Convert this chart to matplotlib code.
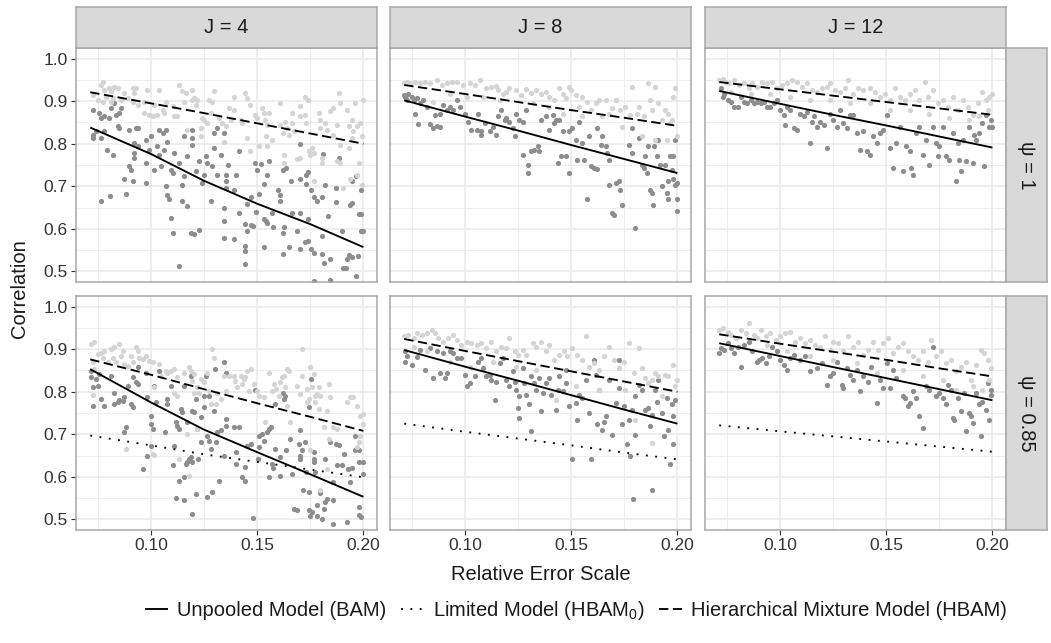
import matplotlib
matplotlib.use("Agg")
import matplotlib.pyplot as plt
from matplotlib.lines import Line2D

plt.rcParams['font.family'] = ['Liberation Sans', 'DejaVu Sans']
plt.rcParams['mathtext.fontset'] = 'custom'
plt.rcParams['mathtext.rm'] = 'Liberation Sans'
plt.rcParams['mathtext.it'] = 'Liberation Sans:italic'

# ---------------- facets / axes ----------------
j_labels = ["J = 4", "J = 8", "J = 12"]
psi_labels = ["\u03c8 = 1", "\u03c8 = 0.85"]
x_ticks = [0.10, 0.15, 0.20]
x_tick_labels = ["0.10", "0.15", "0.20"]
y_ticks = [0.5, 0.6, 0.7, 0.8, 0.9, 1.0]
y_tick_labels = ["0.5", "0.6", "0.7", "0.8", "0.9", "1.0"]
legend_labels = ["Unpooled Model (BAM)", "Limited Model (HBAM$_0$)",
                 "Hierarchical Mixture Model (HBAM)"]

# ---------------- fitted curves ----------------
fit_x = [0.0715, 0.10, 0.125, 0.15, 0.175, 0.20]
j4_psi1_bam_fit = [0.838, 0.776, 0.713, 0.659, 0.611, 0.557]
j4_psi1_hbam_fit = [0.921, 0.895, 0.872, 0.848, 0.824, 0.800]
j8_psi1_bam_fit = [0.902, 0.864, 0.831, 0.797, 0.764, 0.731]
j8_psi1_hbam_fit = [0.938, 0.917, 0.898, 0.879, 0.861, 0.842]
j12_psi1_bam_fit = [0.924, 0.894, 0.868, 0.843, 0.817, 0.791]
j12_psi1_hbam_fit = [0.945, 0.928, 0.913, 0.898, 0.883, 0.868]
j4_psi085_bam_fit = [0.853, 0.775, 0.711, 0.658, 0.606, 0.553]
j4_psi085_hbam_fit = [0.876, 0.840, 0.806, 0.773, 0.741, 0.708]
j4_psi085_hbam0_fit = [0.697, 0.674, 0.653, 0.635, 0.617, 0.599]
j8_psi085_bam_fit = [0.898, 0.859, 0.826, 0.792, 0.758, 0.725]
j8_psi085_hbam_fit = [0.924, 0.896, 0.872, 0.848, 0.824, 0.800]
j8_psi085_hbam0_fit = [0.725, 0.706, 0.690, 0.674, 0.657, 0.641]
j12_psi085_bam_fit = [0.914, 0.884, 0.858, 0.832, 0.806, 0.780]
j12_psi085_hbam_fit = [0.935, 0.913, 0.894, 0.875, 0.855, 0.836]
j12_psi085_hbam0_fit = [0.721, 0.707, 0.695, 0.683, 0.671, 0.659]

# ---------------- simulation points (x = error scale, y = correlation) ----------------
j4_psi1_bam = [
(0.0727,0.880),(0.0727,0.821),(0.0727,0.813),(0.0742,0.829),(0.0766,0.813),(0.0758,0.872),(0.0766,0.860),
(0.0781,0.864),(0.0805,0.860),(0.0813,0.884),(0.0828,0.895),(0.0836,0.868),(0.0852,0.872),(0.0859,0.884),
(0.0844,0.841),(0.0852,0.837),(0.0781,0.829),(0.0794,0.786),(0.0820,0.774),(0.0766,0.666),(0.0808,0.677),
(0.0875,0.716),(0.0883,0.682),(0.0914,0.712),(0.0898,0.747),(0.0906,0.739),(0.0898,0.833),(0.0930,0.837),
(0.0938,0.837),(0.0922,0.802),(0.0938,0.794),(0.0922,0.778),(0.0922,0.766),(0.0977,0.809),(0.0977,0.708),
(0.0977,0.755),(0.0992,0.786),(0.1000,0.817),(0.1016,0.739),(0.1039,0.833),(0.1039,0.774),(0.1031,0.794),
(0.1047,0.747),(0.1055,0.825),(0.1070,0.833),(0.1078,0.805),(0.1063,0.786),(0.1109,0.778),(0.1094,0.739),
(0.1078,0.680),(0.1102,0.731),(0.1070,0.700),(0.1086,0.669),(0.1094,0.626),(0.1106,0.591),(0.1133,0.755),
(0.1133,0.513),(0.1148,0.704),(0.1148,0.665),(0.1156,0.817),(0.1156,0.723),(0.1172,0.770),(0.1172,0.653),
(0.1195,0.833),(0.1195,0.813),(0.1195,0.798),(0.1188,0.591),(0.1203,0.587),(0.1211,0.735),(0.1227,0.759),
(0.1227,0.598),(0.1242,0.708),(0.1258,0.770),(0.1266,0.755),(0.1289,0.747),(0.1250,0.727),(0.1281,0.665),
(0.1297,0.790),(0.1297,0.825),(0.1313,0.837),(0.1313,0.727),(0.1328,0.774),(0.1344,0.649),(0.1344,0.618),
(0.1344,0.579),(0.1352,0.727),(0.1352,0.712),(0.1344,0.825),(0.1352,0.696),
(0.1363,0.751),(0.1391,0.692),(0.1402,0.726),(0.1414,0.782),(0.1414,0.637),(0.1391,0.577),(0.1441,0.612),
(0.1453,0.595),(0.1442,0.559),(0.1442,0.548),(0.1442,0.518),(0.1469,0.610),(0.1480,0.606),(0.1453,0.659),
(0.1469,0.675),(0.1492,0.755),(0.1500,0.739),(0.1520,0.753),(0.1508,0.682),(0.1495,0.640),(0.1531,0.624),
(0.1542,0.618),(0.1547,0.613),(0.1531,0.705),(0.1547,0.727),(0.1558,0.759),(0.1570,0.637),(0.1573,0.605),
(0.1531,0.557),(0.1598,0.692),(0.1609,0.680),(0.1609,0.665),(0.1622,0.739),(0.1636,0.743),(0.1625,0.604),
(0.1623,0.591),(0.1623,0.540),(0.1648,0.557),(0.1661,0.713),(0.1664,0.637),(0.1688,0.596),(0.1702,0.637),
(0.1700,0.718),(0.1703,0.800),(0.1703,0.553),(0.1730,0.727),(0.1728,0.705),(0.1741,0.733),(0.1741,0.622),
(0.1727,0.570),(0.1741,0.571),(0.1753,0.552),(0.1766,0.544),(0.1753,0.691),(0.1766,0.675),(0.1780,0.665),
(0.1805,0.675),(0.1808,0.777),(0.1805,0.583),(0.1806,0.541),(0.1813,0.520),(0.1819,0.704),(0.1833,0.629),
(0.1844,0.530),(0.1870,0.695),(0.1870,0.663),(0.1883,0.766),(0.1898,0.596),(0.1923,0.530),(0.1906,0.509),
(0.1919,0.507),(0.1933,0.538),(0.1948,0.534),(0.1975,0.536),(0.1938,0.657),(0.1948,0.661),(0.1948,0.713),
(0.1963,0.725),(0.1977,0.636),(0.1989,0.636),(0.1989,0.692),(0.1989,0.596),(0.2000,0.596),(0.1963,0.488),
(0.1769,0.477),(0.1844,0.480)]

j4_psi1_hbam = [
(0.0727,0.915),(0.0766,0.938),(0.0773,0.946),(0.0781,0.927),(0.0805,0.930),(0.0813,0.923),(0.0828,0.934),
(0.0844,0.932),(0.0820,0.907),(0.0813,0.899),(0.0859,0.903),(0.0875,0.919),(0.0891,0.907),(0.0914,0.930),
(0.0930,0.930),(0.0922,0.919),(0.0914,0.899),(0.0938,0.891),(0.0969,0.899),(0.0984,0.927),(0.0992,0.868),
(0.1008,0.864),(0.1031,0.868),(0.1039,0.927),(0.1055,0.880),(0.1063,0.872),(0.1070,0.899),(0.1102,0.888),
(0.1109,0.864),(0.1133,0.938),(0.1148,0.923),(0.1156,0.899),(0.1164,0.919),(0.1195,0.927),(0.1195,0.903),
(0.1203,0.907),(0.1219,0.903),(0.1211,0.891),(0.1172,0.833),(0.1234,0.837),(0.1242,0.860),(0.1250,0.856),
(0.1266,0.848),(0.1273,0.903),(0.1289,0.899),(0.1297,0.923),(0.1281,0.872),(0.1320,0.860),(0.1336,0.848),
(0.1352,0.841),(0.1344,0.805),(0.1234,0.817),(0.0750,0.903),(0.0773,0.899),(0.0789,0.911),(0.1016,0.891),
(0.1125,0.864),(0.0969,0.872),
(0.1391,0.911),(0.1367,0.884),(0.1391,0.880),(0.1375,0.856),(0.1445,0.919),(0.1453,0.907),(0.1422,0.856),
(0.1430,0.848),(0.1466,0.891),(0.1453,0.813),(0.1466,0.784),(0.1492,0.868),(0.1500,0.860),(0.1523,0.884),
(0.1531,0.872),(0.1555,0.872),(0.1539,0.856),(0.1547,0.845),(0.1544,0.817),(0.1547,0.794),(0.1508,0.794),
(0.1570,0.809),(0.1609,0.895),(0.1609,0.845),(0.1622,0.825),(0.1625,0.774),(0.1625,0.755),(0.1633,0.852),
(0.1641,0.837),(0.1648,0.821),(0.1664,0.872),(0.1664,0.848),(0.1672,0.829),(0.1688,0.763),(0.1703,0.888),
(0.1703,0.864),(0.1703,0.766),(0.1727,0.911),(0.1738,0.903),(0.1727,0.868),(0.1731,0.848),(0.1742,0.782),
(0.1750,0.774),(0.1758,0.790),(0.1766,0.778),(0.1766,0.712),(0.1789,0.872),(0.1797,0.856),(0.1797,0.837),
(0.1805,0.766),(0.1805,0.755),(0.1820,0.848),(0.1828,0.833),(0.1844,0.876),(0.1859,0.884),(0.1859,0.821),
(0.1875,0.845),(0.1883,0.919),(0.1891,0.895),(0.1875,0.759),(0.1888,0.755),(0.1891,0.798),(0.1922,0.880),
(0.1930,0.841),(0.1930,0.790),(0.1945,0.813),(0.1953,0.829),(0.1948,0.856),(0.1961,0.895),(0.1969,0.841),
(0.1977,0.755),(0.1984,0.848),(0.1992,0.817),(0.2000,0.903),(0.1992,0.704),(0.1969,0.727),(0.1906,0.696),
(0.1938,0.716)]

j8_psi1_bam = [
(0.0712,0.914),(0.0720,0.910),(0.0735,0.916),(0.0751,0.909),(0.0727,0.903),(0.0759,0.903),(0.0774,0.907),
(0.0766,0.871),(0.0782,0.847),(0.0790,0.895),(0.0805,0.903),(0.0821,0.887),(0.0836,0.847),(0.0852,0.836),
(0.0868,0.842),(0.0883,0.840),(0.0860,0.868),(0.0883,0.871),(0.0899,0.891),(0.0914,0.879),(0.0930,0.887),
(0.0945,0.879),(0.0961,0.903),(0.0977,0.887),(0.1000,0.871),(0.1016,0.852),(0.1031,0.833),(0.1055,0.833),
(0.1062,0.871),(0.1078,0.829),(0.1078,0.821),(0.1093,0.848),(0.1117,0.829),(0.1132,0.840),(0.1148,0.821),
(0.1156,0.864),(0.1171,0.879),(0.1187,0.856),(0.1195,0.860),(0.1210,0.852),(0.1226,0.836),(0.1234,0.817),
(0.1241,0.871),(0.1257,0.856),(0.1273,0.852),(0.1273,0.774),(0.1288,0.879),(0.1296,0.751),(0.1296,0.731),
(0.1312,0.782),(0.1327,0.786),(0.1343,0.794),(0.1350,0.782),(0.1358,0.856),(0.1382,0.864),(0.1397,0.833),
(0.1413,0.868),(0.1421,0.848),(0.1428,0.856),(0.1444,0.856),(0.1436,0.755),(0.1452,0.770),(0.1460,0.829),
(0.1475,0.770),(0.1491,0.731),(0.1491,0.829),(0.1506,0.836),(0.1522,0.809),(0.1530,0.762),(0.1537,0.852),
(0.1553,0.801),(0.1561,0.762),(0.1576,0.669),(0.1584,0.817),(0.1592,0.747),(0.1607,0.743),(0.1623,0.741),
(0.1623,0.836),(0.1639,0.798),(0.1646,0.817),(0.1662,0.794),(0.1670,0.778),(0.1678,0.762),(0.1678,0.704),
(0.1693,0.638),(0.1701,0.632),(0.1709,0.708),(0.1724,0.712),(0.1732,0.692),(0.1740,0.657),(0.1771,0.798),
(0.1787,0.778),(0.1802,0.603),(0.1787,0.836),(0.1818,0.813),(0.1833,0.751),(0.1841,0.743),(0.1849,0.770),
(0.1857,0.731),(0.1864,0.794),(0.1872,0.692),(0.1880,0.685),(0.1883,0.657),(0.1888,0.794),(0.1903,0.770),
(0.1911,0.809),(0.1919,0.751),(0.1927,0.700),(0.1942,0.751),(0.1950,0.685),(0.1958,0.669),(0.1966,0.770),
(0.1974,0.739),(0.1981,0.716),(0.1989,0.704),(0.1997,0.708),(0.1997,0.669),(0.1997,0.642),(0.1981,0.770),
(0.1989,0.809),(0.1958,0.712)]

j8_psi1_hbam = [
(0.0712,0.942),(0.0727,0.945),(0.0743,0.943),(0.0766,0.945),(0.0790,0.942),(0.0813,0.945),(0.0836,0.942),
(0.0868,0.949),(0.0891,0.938),(0.0914,0.942),(0.0938,0.945),(0.0961,0.945),(0.0992,0.938),(0.1023,0.942),
(0.1047,0.938),(0.1070,0.949),(0.1101,0.930),(0.1125,0.934),(0.1148,0.935),(0.1156,0.926),(0.1179,0.918),
(0.1195,0.922),(0.1210,0.930),(0.1241,0.926),(0.1265,0.914),(0.1288,0.928),(0.1312,0.920),(0.1335,0.926),
(0.1358,0.918),(0.1382,0.922),(0.1397,0.910),(0.1421,0.903),(0.1444,0.930),(0.1460,0.917),(0.1475,0.907),
(0.1491,0.934),(0.1498,0.926),(0.1522,0.914),(0.1553,0.910),(0.1576,0.899),(0.1592,0.879),(0.1615,0.895),
(0.1631,0.903),(0.1662,0.903),(0.1678,0.871),(0.1693,0.883),(0.1709,0.903),(0.1732,0.879),(0.1755,0.887),
(0.1787,0.934),(0.1810,0.871),(0.1818,0.887),(0.1841,0.864),(0.1864,0.942),(0.1872,0.903),(0.1880,0.879),
(0.1896,0.934),(0.1911,0.895),(0.1927,0.856),(0.1942,0.879),(0.1958,0.871),(0.1966,0.848),(0.1981,0.910),
(0.1989,0.930),(0.1997,0.817),(0.1974,0.856),(0.0852,0.899),(0.0930,0.918),(0.1008,0.910),(0.1086,0.910),
(0.1164,0.903),(0.1319,0.895),(0.1397,0.887),(0.1537,0.887),(0.1646,0.864),(0.1779,0.868),(0.1896,0.809),
(0.1950,0.809),(0.1833,0.817),(0.1553,0.864),(0.1460,0.871),(0.1740,0.840)]

j12_psi1_bam = [
(0.0723,0.930),(0.0731,0.910),(0.0738,0.918),(0.0754,0.903),(0.0769,0.899),(0.0785,0.887),(0.0801,0.887),
(0.0816,0.910),(0.0832,0.899),(0.0847,0.895),(0.0863,0.903),(0.0879,0.895),(0.0894,0.899),(0.0910,0.895),
(0.0925,0.899),(0.0941,0.887),(0.0956,0.887),(0.0972,0.895),(0.0988,0.903),(0.1003,0.879),(0.1019,0.868),
(0.1026,0.844),(0.1034,0.887),(0.1050,0.879),(0.1065,0.836),(0.1081,0.833),(0.1097,0.871),(0.1112,0.864),
(0.1128,0.875),(0.1143,0.801),(0.1151,0.852),(0.1159,0.864),(0.1174,0.840),(0.1190,0.852),(0.1206,0.844),
(0.1221,0.790),(0.1237,0.871),(0.1252,0.856),(0.1268,0.840),(0.1283,0.879),(0.1299,0.848),(0.1315,0.836),
(0.1330,0.868),(0.1346,0.868),(0.1361,0.825),(0.1377,0.786),(0.1393,0.829),(0.1408,0.782),(0.1424,0.774),
(0.1439,0.817),(0.1455,0.801),(0.1470,0.825),(0.1486,0.833),(0.1502,0.868),(0.1517,0.790),(0.1533,0.743),
(0.1548,0.801),(0.1564,0.840),(0.1579,0.735),(0.1595,0.794),(0.1611,0.782),(0.1618,0.743),(0.1626,0.727),
(0.1642,0.825),(0.1657,0.840),(0.1673,0.774),(0.1688,0.809),(0.1704,0.751),(0.1720,0.840),(0.1735,0.801),
(0.1743,0.770),(0.1751,0.794),(0.1766,0.840),(0.1782,0.770),(0.1798,0.762),(0.1813,0.825),(0.1829,0.712),
(0.1836,0.801),(0.1844,0.762),(0.1852,0.735),(0.1860,0.809),(0.1875,0.759),(0.1891,0.840),(0.1907,0.755),
(0.1914,0.821),(0.1922,0.809),(0.1938,0.825),(0.1953,0.848),(0.1961,0.747),(0.1969,0.868),(0.1984,0.840),
(0.1992,0.856),(0.2000,0.840)]

j12_psi1_hbam = [
(0.0715,0.949),(0.0731,0.953),(0.0746,0.945),(0.0762,0.942),(0.0785,0.949),(0.0808,0.938),(0.0832,0.942),
(0.0855,0.932),(0.0871,0.942),(0.0894,0.934),(0.0917,0.945),(0.0941,0.942),(0.0964,0.945),(0.0988,0.930),
(0.1011,0.938),(0.1034,0.942),(0.1058,0.949),(0.1081,0.945),(0.1104,0.934),(0.1128,0.942),(0.1151,0.926),
(0.1174,0.922),(0.1198,0.930),(0.1221,0.934),(0.1237,0.942),(0.1260,0.926),(0.1283,0.922),(0.1307,0.930),
(0.1322,0.949),(0.1346,0.918),(0.1369,0.930),(0.1393,0.926),(0.1424,0.932),(0.1447,0.922),(0.1470,0.910),
(0.1494,0.918),(0.1517,0.903),(0.1540,0.930),(0.1564,0.910),(0.1587,0.903),(0.1611,0.918),(0.1634,0.926),
(0.1657,0.903),(0.1681,0.945),(0.1696,0.910),(0.1720,0.926),(0.1743,0.895),(0.1766,0.903),(0.1790,0.887),
(0.1813,0.910),(0.1836,0.879),(0.1860,0.903),(0.1883,0.887),(0.1907,0.868),(0.1930,0.895),(0.1953,0.922),
(0.1969,0.903),(0.1984,0.910),(0.2000,0.918),(0.1977,0.879),(0.1938,0.864),(0.1891,0.856),(0.1798,0.860),
(0.1704,0.871),(0.1611,0.879),(0.1517,0.879),(0.1424,0.895),(0.1330,0.895),(0.1237,0.903),(0.1143,0.903),
(0.1050,0.910),(0.0956,0.918),(0.0863,0.918),(0.0769,0.922)]

j4_psi085_bam = [
(0.0719,0.849),(0.0719,0.834),(0.0727,0.810),(0.0727,0.767),(0.0742,0.830),(0.0758,0.841),(0.0766,0.783),
(0.0781,0.767),(0.0750,0.814),(0.0813,0.838),(0.0828,0.798),(0.0828,0.771),(0.0844,0.775),(0.0852,0.781),
(0.0867,0.779),(0.0875,0.787),(0.0875,0.705),(0.0883,0.716),(0.0891,0.814),(0.0906,0.771),(0.0914,0.763),
(0.0914,0.834),(0.0930,0.822),(0.0938,0.818),(0.0938,0.857),(0.0961,0.619),(0.0977,0.845),(0.0984,0.787),
(0.0984,0.650),(0.1000,0.744),(0.1000,0.724),(0.1008,0.713),(0.1016,0.814),(0.1000,0.673),(0.1023,0.775),
(0.1039,0.849),(0.1066,0.705),(0.1078,0.771),(0.1078,0.783),(0.1094,0.814),(0.1109,0.673),(0.1106,0.627),
(0.1117,0.728),(0.1125,0.720),(0.1133,0.713),(0.1133,0.591),(0.1141,0.759),(0.1148,0.752),(0.1156,0.599),
(0.1164,0.630),(0.1156,0.814),(0.1172,0.728),(0.1172,0.634),(0.1180,0.642),(0.1188,0.838),(0.1195,0.755),
(0.1203,0.752),(0.1188,0.646),(0.1195,0.634),(0.1211,0.783),(0.1219,0.713),(0.1222,0.642),(0.1211,0.560),
(0.1117,0.550),(0.1156,0.545),(0.1195,0.513),(0.1234,0.740),(0.1234,0.681),(0.1250,0.791),(0.1250,0.763),
(0.1258,0.838),(0.1266,0.697),(0.1266,0.552),(0.1273,0.685),(0.1273,0.791),(0.1281,0.666),(0.1289,0.564),
(0.1297,0.755),(0.1300,0.853),(0.1305,0.681),(0.1313,0.705),(0.1320,0.591),(0.1328,0.709),(0.1344,0.650),
(0.1352,0.736),(0.1352,0.720),(0.1344,0.869),(0.1352,0.845),
(0.1391,0.716),(0.1403,0.630),(0.1402,0.658),(0.1414,0.716),(0.1430,0.599),(0.1442,0.591),(0.1441,0.623),
(0.1453,0.673),(0.1469,0.677),(0.1480,0.503),(0.1492,0.805),(0.1503,0.642),(0.1508,0.670),(0.1508,0.697),
(0.1523,0.701),(0.1531,0.684),(0.1547,0.705),(0.1555,0.713),(0.1563,0.716),(0.1555,0.599),(0.1570,0.630),
(0.1575,0.620),(0.1586,0.771),(0.1586,0.666),(0.1609,0.603),(0.1609,0.646),(0.1622,0.798),(0.1633,0.791),
(0.1625,0.783),(0.1638,0.662),(0.1656,0.689),(0.1664,0.607),(0.1672,0.525),(0.1688,0.521),(0.1695,0.677),
(0.1700,0.709),(0.1703,0.650),(0.1703,0.642),(0.1711,0.662),(0.1714,0.568),(0.1727,0.681),(0.1731,0.611),
(0.1742,0.564),(0.1742,0.763),(0.1742,0.521),(0.1747,0.509),(0.1753,0.830),(0.1758,0.517),(0.1766,0.658),
(0.1766,0.642),(0.1766,0.634),(0.1773,0.611),(0.1781,0.509),(0.1781,0.533),(0.1794,0.563),(0.1805,0.502),
(0.1813,0.525),(0.1820,0.642),(0.1820,0.541),(0.1831,0.548),(0.1844,0.681),(0.1859,0.490),(0.1859,0.545),
(0.1856,0.588),(0.1870,0.677),(0.1875,0.627),(0.1883,0.675),(0.1898,0.627),(0.1909,0.654),(0.1922,0.494),
(0.1927,0.619),(0.1938,0.588),(0.1948,0.620),(0.1961,0.662),(0.1977,0.662),(0.1977,0.634),(0.1977,0.529),
(0.1977,0.511),(0.1989,0.505),(0.2000,0.636),(0.2000,0.607),(0.1961,0.697)]

j4_psi085_hbam = [
(0.0719,0.912),(0.0731,0.916),(0.0727,0.869),(0.0734,0.853),(0.0727,0.792),(0.0750,0.888),(0.0766,0.892),
(0.0773,0.880),(0.0781,0.896),(0.0797,0.869),(0.0813,0.900),(0.0828,0.904),(0.0820,0.880),(0.0836,0.869),
(0.0852,0.912),(0.0859,0.884),(0.0867,0.896),(0.0875,0.865),(0.0891,0.861),(0.0906,0.884),(0.0914,0.869),
(0.0930,0.904),(0.0938,0.896),(0.0945,0.880),(0.0961,0.877),(0.0977,0.884),(0.0992,0.873),(0.1008,0.869),
(0.1016,0.810),(0.1039,0.865),(0.1078,0.845),(0.1094,0.849),(0.1109,0.853),(0.1125,0.834),(0.1109,0.798),
(0.1125,0.791),(0.1156,0.845),(0.1180,0.857),(0.1188,0.849),(0.1195,0.826),(0.1203,0.841),(0.1219,0.810),
(0.1227,0.798),(0.1203,0.798),(0.1234,0.830),(0.1250,0.822),(0.1266,0.845),(0.1273,0.802),(0.1281,0.771),
(0.1289,0.900),(0.1297,0.880),(0.1305,0.771),(0.1313,0.798),(0.1328,0.783),(0.1344,0.838),(0.1352,0.802),
(0.1008,0.654),(0.1016,0.652),(0.0883,0.666),(0.1172,0.701),(0.1180,0.603),(0.1219,0.713),(0.1133,0.642),
(0.1070,0.849),(0.1047,0.838),
(0.1367,0.838),(0.1391,0.838),(0.1398,0.826),(0.1406,0.810),(0.1422,0.838),(0.1430,0.818),(0.1438,0.830),
(0.1445,0.834),(0.1453,0.849),(0.1469,0.853),(0.1461,0.802),(0.1484,0.818),(0.1500,0.802),(0.1508,0.791),
(0.1531,0.787),(0.1539,0.728),(0.1555,0.845),(0.1570,0.802),(0.1578,0.818),(0.1591,0.806),(0.1602,0.791),
(0.1609,0.822),(0.1617,0.834),(0.1625,0.838),(0.1633,0.810),(0.1641,0.853),(0.1648,0.849),(0.1641,0.767),
(0.1656,0.728),(0.1688,0.814),(0.1703,0.795),(0.1711,0.900),(0.1711,0.838),(0.1734,0.806),(0.1734,0.775),
(0.1742,0.783),(0.1750,0.857),(0.1758,0.810),(0.1766,0.841),(0.1773,0.791),(0.1773,0.775),(0.1781,0.795),
(0.1789,0.810),(0.1789,0.759),(0.1797,0.791),(0.1813,0.716),(0.1828,0.755),(0.1836,0.818),(0.1844,0.787),
(0.1859,0.716),(0.1875,0.713),(0.1836,0.689),(0.1922,0.775),(0.1938,0.787),(0.1953,0.787),(0.1969,0.767),
(0.1984,0.744),(0.2000,0.748),(0.2000,0.724),(0.1984,0.697),(0.1969,0.670),(0.1977,0.681),(0.1828,0.619),
(0.1797,0.568),(0.1750,0.662)]

j8_psi085_bam = [
(0.0720,0.895),(0.0720,0.871),(0.0727,0.883),(0.0751,0.863),(0.0774,0.881),(0.0790,0.898),(0.0813,0.850),
(0.0836,0.902),(0.0852,0.832),(0.0868,0.895),(0.0883,0.844),(0.0899,0.891),(0.0907,0.832),(0.0914,0.844),
(0.0930,0.895),(0.0945,0.891),(0.0961,0.879),(0.0984,0.879),(0.1000,0.840),(0.1008,0.813),(0.1023,0.820),
(0.1047,0.836),(0.1062,0.871),(0.1078,0.879),(0.1086,0.855),(0.1101,0.836),(0.1117,0.840),(0.1125,0.828),
(0.1140,0.781),(0.1148,0.824),(0.1164,0.867),(0.1179,0.879),(0.1195,0.828),(0.1210,0.813),(0.1226,0.848),
(0.1234,0.824),(0.1241,0.805),(0.1249,0.762),(0.1257,0.789),(0.1257,0.738),(0.1273,0.855),(0.1280,0.820),
(0.1288,0.793),(0.1304,0.770),(0.1312,0.707),(0.1312,0.836),(0.1327,0.820),(0.1335,0.805),(0.1350,0.832),
(0.1358,0.754),(0.1366,0.797),(0.1382,0.820),(0.1397,0.832),(0.1405,0.793),(0.1428,0.758),(0.1436,0.805),
(0.1444,0.836),(0.1460,0.801),(0.1475,0.852),(0.1475,0.820),(0.1491,0.766),(0.1506,0.641),(0.1522,0.773),
(0.1530,0.734),(0.1537,0.793),(0.1553,0.785),(0.1569,0.828),(0.1584,0.750),(0.1592,0.641),(0.1607,0.875),
(0.1615,0.840),(0.1623,0.723),(0.1631,0.805),(0.1646,0.711),(0.1654,0.730),(0.1662,0.742),(0.1678,0.828),
(0.1693,0.699),(0.1709,0.773),(0.1724,0.875),(0.1724,0.809),(0.1740,0.723),(0.1748,0.766),(0.1763,0.676),
(0.1771,0.734),(0.1779,0.648),(0.1787,0.758),(0.1790,0.548),(0.1802,0.789),(0.1802,0.699),(0.1818,0.816),
(0.1833,0.805),(0.1849,0.758),(0.1864,0.762),(0.1872,0.719),(0.1880,0.570),(0.1880,0.746),(0.1896,0.805),
(0.1903,0.777),(0.1911,0.828),(0.1927,0.750),(0.1935,0.695),(0.1950,0.785),(0.1958,0.711),(0.1966,0.629),
(0.1974,0.770),(0.1981,0.742),(0.1981,0.676),(0.1989,0.781)]

j8_psi085_hbam = [
(0.0712,0.930),(0.0735,0.934),(0.0759,0.926),(0.0774,0.938),(0.0798,0.934),(0.0821,0.938),(0.0844,0.945),
(0.0860,0.939),(0.0875,0.926),(0.0899,0.918),(0.0922,0.926),(0.0945,0.934),(0.0961,0.922),(0.0984,0.910),
(0.1008,0.918),(0.1031,0.914),(0.1055,0.910),(0.1078,0.914),(0.1101,0.902),(0.1125,0.918),(0.1148,0.895),
(0.1171,0.906),(0.1195,0.902),(0.1210,0.926),(0.1234,0.895),(0.1249,0.887),(0.1273,0.898),(0.1288,0.887),
(0.1319,0.914),(0.1335,0.906),(0.1358,0.918),(0.1382,0.895),(0.1397,0.910),(0.1421,0.875),(0.1444,0.887),
(0.1467,0.895),(0.1483,0.883),(0.1506,0.902),(0.1530,0.887),(0.1553,0.875),(0.1569,0.930),(0.1584,0.859),
(0.1607,0.867),(0.1631,0.852),(0.1654,0.883),(0.1678,0.906),(0.1701,0.875),(0.1724,0.855),(0.1748,0.871),
(0.1771,0.914),(0.1794,0.844),(0.1818,0.902),(0.1833,0.855),(0.1849,0.832),(0.1864,0.820),(0.1880,0.828),
(0.1896,0.844),(0.1911,0.836),(0.1927,0.789),(0.1942,0.840),(0.1958,0.836),(0.1981,0.863),(0.1997,0.828),
(0.1989,0.813),(0.1802,0.734),(0.1880,0.680),(0.1755,0.805),(0.1631,0.805),(0.1522,0.813),(0.1428,0.781),
(0.1335,0.852),(0.1241,0.859),(0.1132,0.871),(0.1023,0.859),(0.0930,0.871),(0.0821,0.895),(0.0759,0.906)]

j12_psi085_bam = [
(0.0715,0.891),(0.0723,0.902),(0.0738,0.898),(0.0754,0.914),(0.0769,0.902),(0.0785,0.891),(0.0801,0.906),
(0.0816,0.859),(0.0832,0.910),(0.0855,0.918),(0.0871,0.895),(0.0894,0.871),(0.0902,0.875),(0.0917,0.879),
(0.0933,0.867),(0.0949,0.883),(0.0964,0.906),(0.0988,0.895),(0.1003,0.875),(0.1019,0.863),(0.1034,0.852),
(0.1050,0.879),(0.1065,0.887),(0.1097,0.875),(0.1120,0.883),(0.1143,0.848),(0.1174,0.855),(0.1198,0.867),
(0.1221,0.816),(0.1237,0.836),(0.1252,0.844),(0.1268,0.871),(0.1291,0.816),(0.1299,0.809),(0.1315,0.855),
(0.1330,0.840),(0.1346,0.828),(0.1361,0.852),(0.1377,0.801),(0.1393,0.836),(0.1416,0.824),(0.1431,0.859),
(0.1455,0.773),(0.1470,0.828),(0.1486,0.809),(0.1502,0.867),(0.1517,0.809),(0.1533,0.852),(0.1548,0.832),
(0.1579,0.789),(0.1587,0.785),(0.1603,0.766),(0.1611,0.773),(0.1626,0.801),(0.1642,0.785),(0.1657,0.742),
(0.1673,0.715),(0.1688,0.813),(0.1704,0.805),(0.1720,0.906),(0.1735,0.789),(0.1751,0.797),(0.1766,0.785),
(0.1782,0.770),(0.1790,0.816),(0.1805,0.805),(0.1813,0.738),(0.1821,0.734),(0.1836,0.785),(0.1852,0.754),
(0.1868,0.797),(0.1875,0.707),(0.1891,0.750),(0.1899,0.742),(0.1907,0.727),(0.1922,0.797),(0.1938,0.770),
(0.1945,0.695),(0.1953,0.777),(0.1969,0.758),(0.1977,0.820),(0.1984,0.734),(0.1992,0.793),(0.1992,0.805)]

j12_psi085_hbam = [
(0.0715,0.945),(0.0731,0.949),(0.0754,0.941),(0.0769,0.934),(0.0793,0.926),(0.0816,0.945),(0.0840,0.938),
(0.0855,0.961),(0.0879,0.934),(0.0894,0.926),(0.0910,0.945),(0.0933,0.930),(0.0956,0.938),(0.0980,0.922),
(0.1003,0.930),(0.1026,0.938),(0.1050,0.941),(0.1073,0.918),(0.1097,0.926),(0.1120,0.914),(0.1143,0.922),
(0.1167,0.910),(0.1190,0.906),(0.1213,0.930),(0.1237,0.898),(0.1252,0.918),(0.1276,0.914),(0.1299,0.895),
(0.1322,0.930),(0.1346,0.906),(0.1369,0.918),(0.1393,0.887),(0.1416,0.898),(0.1439,0.918),(0.1463,0.898),
(0.1486,0.914),(0.1509,0.926),(0.1533,0.891),(0.1556,0.906),(0.1579,0.914),(0.1603,0.895),(0.1626,0.883),
(0.1650,0.875),(0.1673,0.895),(0.1696,0.871),(0.1712,0.922),(0.1735,0.883),(0.1759,0.895),(0.1782,0.867),
(0.1805,0.875),(0.1829,0.848),(0.1852,0.859),(0.1875,0.871),(0.1899,0.828),(0.1922,0.863),(0.1945,0.898),
(0.1961,0.891),(0.1977,0.875),(0.1992,0.855),(0.1984,0.828),(0.1953,0.805),(0.1907,0.813),(0.1829,0.805),
(0.1766,0.828),(0.1673,0.836),(0.1579,0.852),(0.1455,0.844),(0.1361,0.867),(0.1252,0.875),(0.1143,0.883),
(0.1034,0.895),(0.0941,0.910)]

# ---------------- layout ----------------
W, H = 1051, 643
fig = plt.figure(figsize=(W / 100, H / 100), dpi=100)
fig.patch.set_facecolor("white")

col_left = [76, 390, 705]
col_w = 301
row_top = [48, 296]
row_h = 234
strip_h = 41

def box(l, t, w, h):
    return [l / W, 1 - (t + h) / H, w / W, h / H]

DARK = "#8d8d8d"
LIGHT = "#d4d4d4"
BORDER = "#a8a8a8"
STRIP = "#d9d9d9"
GRID = "#ebebeb"
TXT = "#1a1a1a"
TITLE_FS = 14.5
TICK_FS = 12.5

panels = [
    [(j4_psi1_bam, j4_psi1_hbam, j4_psi1_bam_fit, j4_psi1_hbam_fit, None),
     (j8_psi1_bam, j8_psi1_hbam, j8_psi1_bam_fit, j8_psi1_hbam_fit, None),
     (j12_psi1_bam, j12_psi1_hbam, j12_psi1_bam_fit, j12_psi1_hbam_fit, None)],
    [(j4_psi085_bam, j4_psi085_hbam, j4_psi085_bam_fit, j4_psi085_hbam_fit, j4_psi085_hbam0_fit),
     (j8_psi085_bam, j8_psi085_hbam, j8_psi085_bam_fit, j8_psi085_hbam_fit, j8_psi085_hbam0_fit),
     (j12_psi085_bam, j12_psi085_hbam, j12_psi085_bam_fit, j12_psi085_hbam_fit, j12_psi085_hbam0_fit)],
]

LW = 1.35
DASH = (5.0, 2.4)
DOT = (1.0, 4.0)

def styled_line(ax, xs, ys, kind):
    ln, = ax.plot(xs, ys, color="black", lw=LW, solid_capstyle="butt",
                  dash_capstyle="butt", zorder=5)
    if kind == "dashed":
        ln.set_dashes(DASH)
    elif kind == "dotted":
        ln.set_dashes(DOT)
    return ln

for r in range(2):
    for c in range(3):
        ax = fig.add_axes(box(col_left[c], row_top[r], col_w, row_h))
        bam, hbam, bam_fit, hbam_fit, hbam0_fit = panels[r][c]
        ax.set_xlim(0.0648, 0.2064)
        ax.set_ylim(0.475, 1.025)
        ax.set_xticks(x_ticks)
        ax.set_xticklabels(x_tick_labels)
        ax.set_yticks(y_ticks)
        ax.set_yticklabels(y_tick_labels)
        ax.set_xticks([0.075, 0.125, 0.175], minor=True)
        ax.set_yticks([0.55, 0.65, 0.75, 0.85, 0.95], minor=True)
        ax.grid(True, which="major", color=GRID, lw=1.2)
        ax.grid(True, which="minor", color=GRID, lw=0.6)
        ax.set_axisbelow(True)
        for sp in ax.spines.values():
            sp.set_color(BORDER)
            sp.set_linewidth(1.1)
        ax.tick_params(which="minor", length=0)
        ax.tick_params(which="major", length=3.5, width=0.8, color="#333333",
                       labelsize=TICK_FS, labelcolor="#333333", pad=2.5)
        if c != 0:
            ax.tick_params(axis="y", which="major", left=False, labelleft=False)
        if r != 1:
            ax.tick_params(axis="x", which="major", bottom=False, labelbottom=False)

        ax.scatter([p[0] for p in bam], [p[1] for p in bam], s=14, color=DARK,
                   linewidths=0, zorder=2)
        ax.scatter([p[0] for p in hbam], [p[1] for p in hbam], s=14, color=LIGHT,
                   linewidths=0, zorder=3)
        styled_line(ax, fit_x, bam_fit, "solid")
        if hbam0_fit is not None:
            styled_line(ax, fit_x, hbam0_fit, "dotted")
        styled_line(ax, fit_x, hbam_fit, "dashed")

        # top strips
        if r == 0:
            sax = fig.add_axes(box(col_left[c], row_top[0] - strip_h, col_w, strip_h))
            sax.set_facecolor(STRIP)
            sax.set_xticks([]); sax.set_yticks([])
            for sp in sax.spines.values():
                sp.set_color(BORDER); sp.set_linewidth(1.1)
            sax.text(0.5, 0.5, j_labels[c], ha="center", va="center",
                     fontsize=TITLE_FS, color=TXT, transform=sax.transAxes)
        # right strips
        if c == 2:
            rax = fig.add_axes(box(col_left[2] + col_w, row_top[r], strip_h, row_h))
            rax.set_facecolor(STRIP)
            rax.set_xticks([]); rax.set_yticks([])
            for sp in rax.spines.values():
                sp.set_color(BORDER); sp.set_linewidth(1.1)
            rax.text(0.5, 0.5, psi_labels[r], ha="center", va="center",
                     rotation=-90, fontsize=TITLE_FS, color=TXT, transform=rax.transAxes)

fig.text(541 / W, 1 - 574 / H, "Relative Error Scale", ha="center", va="center",
         fontsize=TITLE_FS, color=TXT)
fig.text(20 / W, 1 - 289 / H, "Correlation", ha="center", va="center",
         rotation=90, fontsize=TITLE_FS, color=TXT)

h_solid = Line2D([], [], color="black", lw=LW, solid_capstyle="butt")
h_dot = Line2D([], [], color="black", lw=LW, dashes=DOT, dash_capstyle="butt")
h_dash = Line2D([], [], color="black", lw=LW, dashes=DASH, dash_capstyle="butt")
fig.legend([h_solid, h_dot, h_dash], legend_labels, loc="center",
           bbox_to_anchor=(576 / W, 1 - 611 / H), ncol=3, frameon=False,
           fontsize=14.5, handlelength=1.15, handletextpad=0.45, columnspacing=0.7,
           labelcolor=TXT)

fig.savefig("out.png", dpi=100, facecolor="white")
